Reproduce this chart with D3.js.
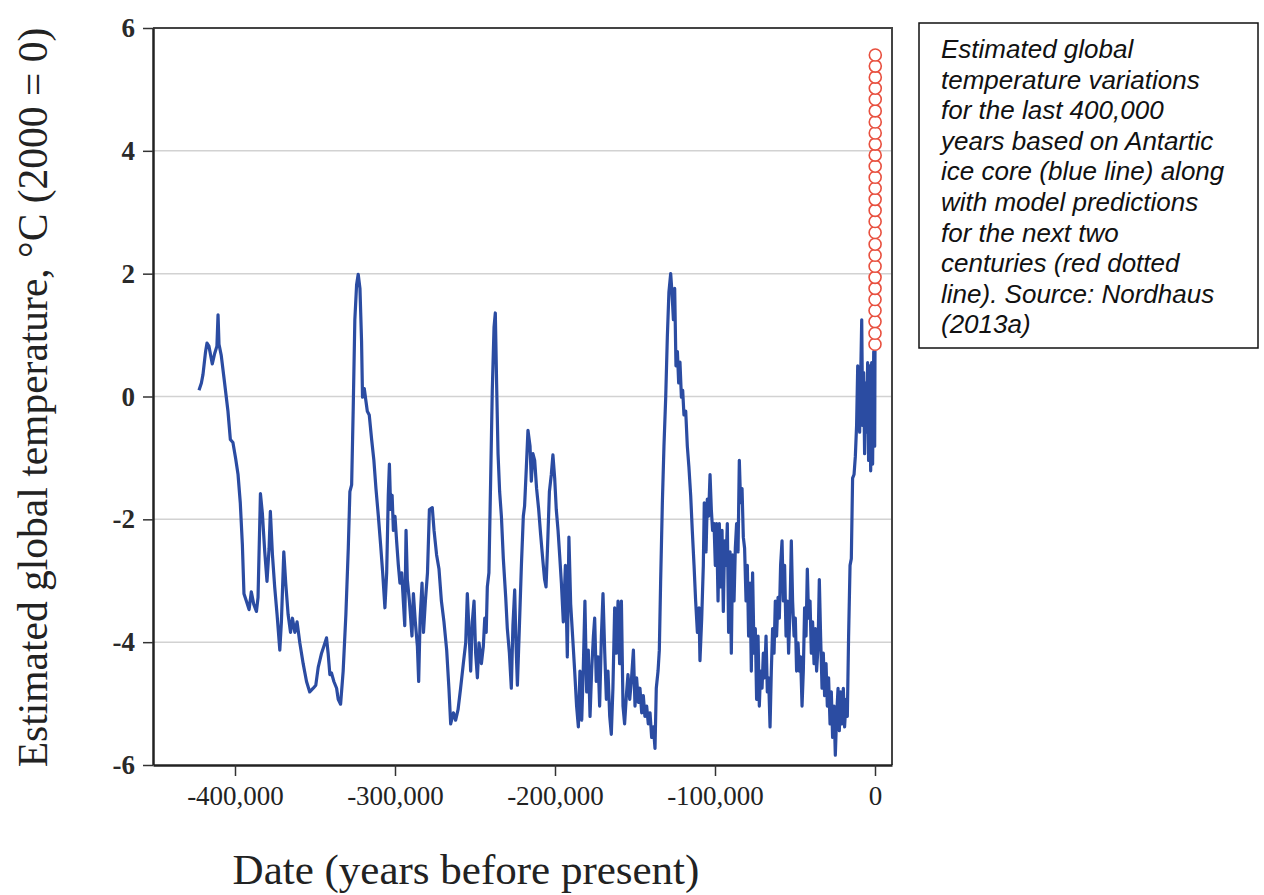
<!DOCTYPE html>
<html>
<head>
<meta charset="utf-8">
<script src="https://cdn.jsdelivr.net/npm/d3@7"></script>
<style>
	body { margin: 0; background: #fff; }
	.tick text { font-family: "Liberation Serif", serif; fill: #222; }
</style>
</head>
<body>
<div id="chart"></div>
<script>
// ice core record, [years before present, deg C relative to 2000]
var iceCore = [
	[-422500, 0.10], [-421000, 0.22], [-420000, 0.36], [-418400, 0.73], [-417500, 0.87], [-416300, 0.82],
	[-414200, 0.53], [-412700, 0.70], [-411300, 0.82], [-410600, 1.33], [-410000, 0.85], [-408600, 0.67],
	[-406500, 0.22], [-404400, -0.24], [-402900, -0.70], [-401300, -0.75], [-399600, -1.01], [-398100, -1.27],
	[-396700, -1.73], [-395400, -2.41], [-394400, -3.21], [-392900, -3.33], [-391200, -3.47], [-389800, -3.18],
	[-388300, -3.38], [-386600, -3.50], [-385600, -3.27], [-384100, -1.58], [-382900, -1.90], [-381400, -2.53],
	[-380000, -3.01], [-378700, -2.47], [-377900, -1.87], [-376600, -2.58], [-375200, -3.10], [-373700, -3.55],
	[-372000, -4.13], [-371000, -3.67], [-369500, -2.53], [-368300, -3.04], [-366800, -3.55], [-365300, -3.84],
	[-364100, -3.61], [-362600, -3.84], [-361200, -3.67], [-359500, -4.01], [-357400, -4.35], [-355300, -4.64],
	[-353300, -4.81], [-351100, -4.75], [-349500, -4.70], [-348000, -4.41], [-345900, -4.18], [-344500, -4.07],
	[-342800, -3.93], [-341800, -4.18], [-340700, -4.53], [-339700, -4.50], [-338200, -4.64], [-336500, -4.75],
	[-335500, -4.93], [-334000, -5.01], [-332400, -4.47], [-330700, -3.55], [-329200, -2.47], [-328200, -1.55],
	[-327100, -1.44], [-326100, -0.18], [-325100, 1.25], [-324000, 1.82], [-323000, 1.99], [-321900, 1.76],
	[-320900, 0.90], [-320300, -0.01], [-319200, 0.13], [-318200, -0.07], [-317300, -0.24], [-316100, -0.30],
	[-314600, -0.70], [-313200, -1.04], [-311900, -1.50], [-310400, -1.95], [-309000, -2.41], [-307700, -2.87],
	[-306300, -3.44], [-305200, -2.87], [-304200, -1.61], [-303500, -1.10], [-302700, -1.84], [-301800, -1.61],
	[-301000, -2.18], [-300000, -1.95], [-299000, -2.35], [-297900, -2.75], [-296900, -3.04], [-295800, -2.87],
	[-294800, -3.33], [-293900, -3.73], [-293100, -2.18], [-292300, -2.98], [-291000, -3.33], [-290200, -3.61],
	[-289400, -3.90], [-288500, -3.21], [-287300, -3.67], [-286000, -4.07], [-285200, -4.64], [-284300, -3.61],
	[-283100, -3.04], [-282200, -3.84], [-281000, -3.33], [-279700, -2.87], [-278500, -1.84],
	[-276700, -1.81], [-275600, -2.18], [-274000, -2.58], [-272500, -2.81], [-271000, -3.33], [-269400, -3.67],
	[-267700, -4.13], [-266300, -4.75], [-265200, -5.33], [-263500, -5.15], [-262100, -5.27], [-260600, -5.10],
	[-259000, -4.75], [-257300, -4.35], [-255800, -4.01], [-254800, -3.21], [-253800, -3.78], [-252700, -4.47],
	[-251700, -3.67], [-250600, -3.33], [-249600, -4.18], [-248500, -4.58], [-247500, -4.01], [-246000, -4.35],
	[-244800, -4.07], [-243900, -3.61], [-243000, -3.84], [-242300, -3.10], [-241300, -2.87], [-240200, -1.33],
	[-239200, 0.10], [-238100, 1.13], [-237300, 1.36], [-236500, 0.22], [-235600, -0.93], [-234600, -1.55],
	[-233500, -1.95], [-232300, -2.64], [-230800, -3.27], [-229800, -3.78], [-228500, -4.18], [-227300, -4.75],
	[-226300, -3.73], [-225200, -3.15], [-224400, -4.01], [-223500, -4.70], [-222300, -3.78], [-221000, -2.75],
	[-219800, -1.95], [-219000, -1.78], [-217900, -1.15], [-216900, -0.55], [-215600, -0.81], [-214800, -1.38],
	[-213800, -0.93], [-212700, -1.04], [-211500, -1.50], [-210200, -1.84], [-209000, -2.24], [-207700, -2.64],
	[-206500, -2.98], [-205600, -3.10], [-204600, -2.41], [-203500, -1.55], [-202300, -1.27], [-201300, -0.95],
	[-200200, -1.33], [-199200, -1.84], [-198100, -2.18], [-197100, -2.58], [-196000, -3.04], [-194800, -3.67],
	[-193500, -2.75], [-192300, -4.24], [-191300, -2.29], [-190200, -3.38], [-189000, -3.90], [-187700, -4.47],
	[-186500, -5.04], [-185400, -5.38], [-184400, -4.47], [-183300, -5.27], [-182300, -4.41], [-181300, -3.33],
	[-180200, -4.81], [-179200, -4.13], [-178100, -5.21], [-177100, -4.47], [-176000, -3.90], [-175200, -3.61],
	[-174200, -4.64], [-173100, -4.24], [-172100, -5.04], [-171000, -3.90], [-170000, -3.21], [-168900, -4.18],
	[-167900, -4.93], [-166900, -4.47], [-165800, -5.21], [-164800, -5.50], [-163800, -4.75], [-162700, -3.44],
	[-161700, -4.18], [-160600, -3.33], [-159600, -4.35], [-158500, -3.33], [-157500, -5.04], [-156500, -5.33],
	[-155400, -4.87], [-154400, -4.53], [-153300, -4.93], [-152300, -4.64], [-151000, -4.13], [-150000, -5.04],
	[-149000, -4.58], [-147900, -4.98], [-146900, -4.75], [-145800, -5.15], [-144800, -4.87], [-143800, -5.21],
	[-142700, -5.04], [-141700, -5.33], [-140600, -5.15], [-139600, -5.55], [-138500, -5.38], [-137500, -5.73],
	[-136700, -4.75], [-135600, -4.47], [-134800, -4.13], [-134000, -3.04], [-132900, -1.73], [-131900, -0.81],
	[-130800, -0.01], [-129800, 0.96], [-128800, 1.70], [-127700, 2.00], [-126900, 1.70], [-126000, 1.25],
	[-125200, 1.76], [-124400, 0.50], [-123500, 0.73], [-122700, 0.22], [-121900, 0.56], [-121000, -0.01],
	[-120200, 0.10], [-119400, -0.30], [-118300, -0.24], [-117300, -0.81], [-116300, -1.15], [-115200, -1.61],
	[-114200, -2.18], [-113100, -2.75], [-112100, -3.33], [-111000, -3.84], [-110000, -3.44],
	[-109400, -4.30], [-108300, -3.61], [-107300, -2.75], [-106700, -1.73], [-105600, -2.53], [-104800, -1.67],
	[-104000, -1.95], [-103100, -1.27], [-102300, -1.84], [-101500, -2.18], [-100600, -2.07], [-99800, -2.75],
	[-99000, -2.07], [-98100, -3.33], [-97300, -2.07], [-96500, -3.10], [-95600, -2.18], [-94800, -3.50],
	[-94000, -2.35], [-93100, -2.75], [-92300, -2.07], [-91500, -3.84], [-90600, -2.53], [-89800, -4.18],
	[-89000, -2.58], [-88100, -3.33], [-87300, -2.47], [-86500, -2.07], [-85600, -2.53], [-84800, -1.04],
	[-84000, -1.73], [-83100, -1.50], [-82300, -2.29], [-81500, -2.47], [-80600, -3.33], [-79800, -2.75],
	[-79000, -3.90], [-78100, -3.04], [-77300, -4.47], [-76500, -2.87], [-75600, -4.18], [-74800, -3.78],
	[-74000, -4.93], [-73100, -3.90], [-72300, -5.04], [-71500, -4.47], [-70600, -4.75], [-69800, -4.18],
	[-69000, -4.58], [-68100, -3.90], [-67300, -4.81], [-66500, -4.58], [-65600, -5.38], [-64800, -4.47],
	[-64000, -3.78], [-63100, -4.18], [-62300, -3.33], [-61500, -3.90], [-60600, -3.27], [-59800, -3.61],
	[-59000, -2.75], [-58100, -2.35], [-57300, -3.33], [-56500, -2.75], [-55600, -3.90], [-54800, -3.33],
	[-54000, -4.18], [-53100, -3.44], [-52300, -2.35], [-51500, -3.33], [-50600, -3.90], [-49800, -3.61],
	[-49000, -4.47], [-48100, -4.01], [-47300, -4.47], [-46500, -4.24], [-45600, -5.04], [-44800, -4.47],
	[-44000, -3.44], [-43100, -3.90], [-42300, -2.81], [-41500, -3.61], [-40600, -3.33], [-39800, -4.18],
	[-39000, -3.67], [-38100, -4.35], [-37300, -3.78], [-36500, -4.47], [-35600, -4.07], [-34800, -2.98],
	[-34000, -3.90], [-33100, -4.75], [-32300, -4.18], [-31500, -4.87], [-30600, -4.35], [-29800, -5.04],
	[-29000, -4.58], [-28100, -5.33], [-27300, -4.81], [-26500, -5.55], [-25600, -5.04], [-24800, -5.84],
	[-24000, -5.21], [-23100, -4.75], [-22300, -5.44], [-21500, -4.81], [-20600, -5.33], [-19800, -4.75],
	[-19000, -5.38], [-18100, -4.93], [-17300, -5.21], [-16500, -3.90], [-15600, -2.75], [-14800, -2.64],
	[-14000, -1.33], [-13100, -1.27], [-12300, -0.98], [-11500, -0.47], [-10800, 0.50], [-10200, -0.01],
	[-9600, -0.58], [-8900, 0.39], [-8300, 1.25], [-7700, -0.47], [-7100, 0.39], [-6500, -0.93],
	[-5800, 0.22], [-5200, -0.58], [-4600, 0.55], [-4000, -1.04], [-3300, 0.50], [-2700, -1.21],
	[-2100, 0.55], [-1500, -1.10], [-800, 0.73], [-200, -0.81], [0, 0.75]
]

// model predictions for the next two centuries
var predYears = [0, 8, 15, 23, 31, 38, 46, 54, 62, 69, 77, 85, 92, 100, 108, 115, 123, 131, 138, 146, 154, 162, 169, 177, 185, 192, 200]
var predTemps = [0.85, 1.03, 1.22, 1.40, 1.58, 1.76, 1.94, 2.12, 2.30, 2.48, 2.67, 2.85, 3.03, 3.21, 3.39, 3.57, 3.75, 3.93, 4.11, 4.29, 4.47, 4.65, 4.84, 5.02, 5.20, 5.38, 5.56]

var xTicks = [-400000, -300000, -200000, -100000, 0]
var yTicks = [-6, -4, -2, 0, 2, 4, 6]
var gridValues = [-4, -2, 0, 2, 4]

var captionLines = [
	"Estimated global",
	"temperature variations",
	"for the last 400,000",
	"years based on Antartic",
	"ice core (blue line) along",
	"with model predictions",
	"for the next two",
	"centuries (red dotted",
	"line). Source: Nordhaus",
	"(2013a)"
]

function draw() {
	var width = 1264
	var height = 895
	var pLeft = 153, pRight = 892, pTop = 28, pBottom = 765

	var fmt = d3.formatLocale({ decimal: ".", thousands: ",", grouping: [3], currency: ["", ""], minus: "-" }).format(",")

	var svg = d3.select("#chart")
		.append("svg")
		.attr("width", width)
		.attr("height", height)

	var x = d3.scaleLinear().domain([-451250, 10625]).range([pLeft, pRight])
	var y = d3.scaleLinear().domain([-6, 6]).range([pBottom, pTop])

	// grid
	svg.append("g")
		.selectAll("line")
		.data(gridValues)
		.enter().append("line")
		.attr("x1", pLeft)
		.attr("x2", pRight)
		.attr("y1", function (d) { return y(d) })
		.attr("y2", function (d) { return y(d) })
		.style("stroke", "#d2d2d2")
		.style("stroke-width", 1.5)

	// frame (top and right)
	svg.append("path")
		.attr("d", "M" + pLeft + "," + pTop + "H" + pRight + "V" + pBottom)
		.style("fill", "none")
		.style("stroke", "#444")
		.style("stroke-width", 2)

	var yAxis = svg.append("g")
		.attr("transform", "translate(" + pLeft + ",0)")
		.call(d3.axisLeft(y).tickValues(yTicks).tickFormat(fmt).tickSize(10).tickPadding(8).tickSizeOuter(0))
	yAxis.selectAll("text").style("font-size", "27px").style("font-weight", "bold").style("fill", "#2a2a2a")

	var xAxis = svg.append("g")
		.attr("transform", "translate(0," + pBottom + ")")
		.call(d3.axisBottom(x).tickValues(xTicks).tickFormat(fmt).tickSize(11).tickPadding(10).tickSizeOuter(0))
	xAxis.selectAll("text").style("font-size", "27px")

	svg.selectAll(".domain").style("stroke", "#222").style("stroke-width", 2.5)
	svg.selectAll(".tick line").style("stroke", "#333").style("stroke-width", 1.5)

	// ice core line
	var line = d3.line()
		.x(function (d) { return x(d[0]) })
		.y(function (d) { return y(d[1]) })

	svg.append("path")
		.datum(iceCore)
		.attr("d", line)
		.style("fill", "none")
		.style("stroke", "#2b4ca2")
		.style("stroke-width", 3.2)
		.style("stroke-linejoin", "round")

	// prediction circles
	svg.append("g")
		.selectAll("circle")
		.data(predYears)
		.enter().append("circle")
		.attr("cx", function (d) { return x(d) })
		.attr("cy", function (d, i) { return y(predTemps[i]) })
		.attr("r", 6)
		.style("fill", "#fff")
		.style("stroke", "#e8503f")
		.style("stroke-width", 1.6)

	// axis titles
	svg.append("text")
		.attr("x", 466)
		.attr("y", 884)
		.attr("text-anchor", "middle")
		.style("font-family", "Liberation Serif, serif")
		.style("font-size", "43px")
		.style("fill", "#222")
		.text("Date (years before present)")

	svg.append("text")
		.attr("transform", "translate(47," + ((pTop + pBottom) / 2 + 1) + ") rotate(-90)")
		.attr("text-anchor", "middle")
		.style("font-family", "Liberation Serif, serif")
		.style("font-size", "41.5px")
		.style("fill", "#222")
		.text("Estimated global temperature, \u00B0C (2000 = 0)")

	// caption box
	svg.append("rect")
		.attr("x", 919)
		.attr("y", 23)
		.attr("width", 339)
		.attr("height", 325)
		.style("fill", "#fff")
		.style("stroke", "#111")
		.style("stroke-width", 1.5)

	svg.append("g")
		.selectAll("text")
		.data(captionLines)
		.enter().append("text")
		.attr("x", 941)
		.attr("y", function (d, i) { return 58 + i * 30.6 })
		.style("font-family", "Liberation Sans, sans-serif")
		.style("font-style", "italic")
		.style("font-size", "26px")
		.style("fill", "#111")
		.text(function (d) { return d })
}

draw()
</script>
</body>
</html>
